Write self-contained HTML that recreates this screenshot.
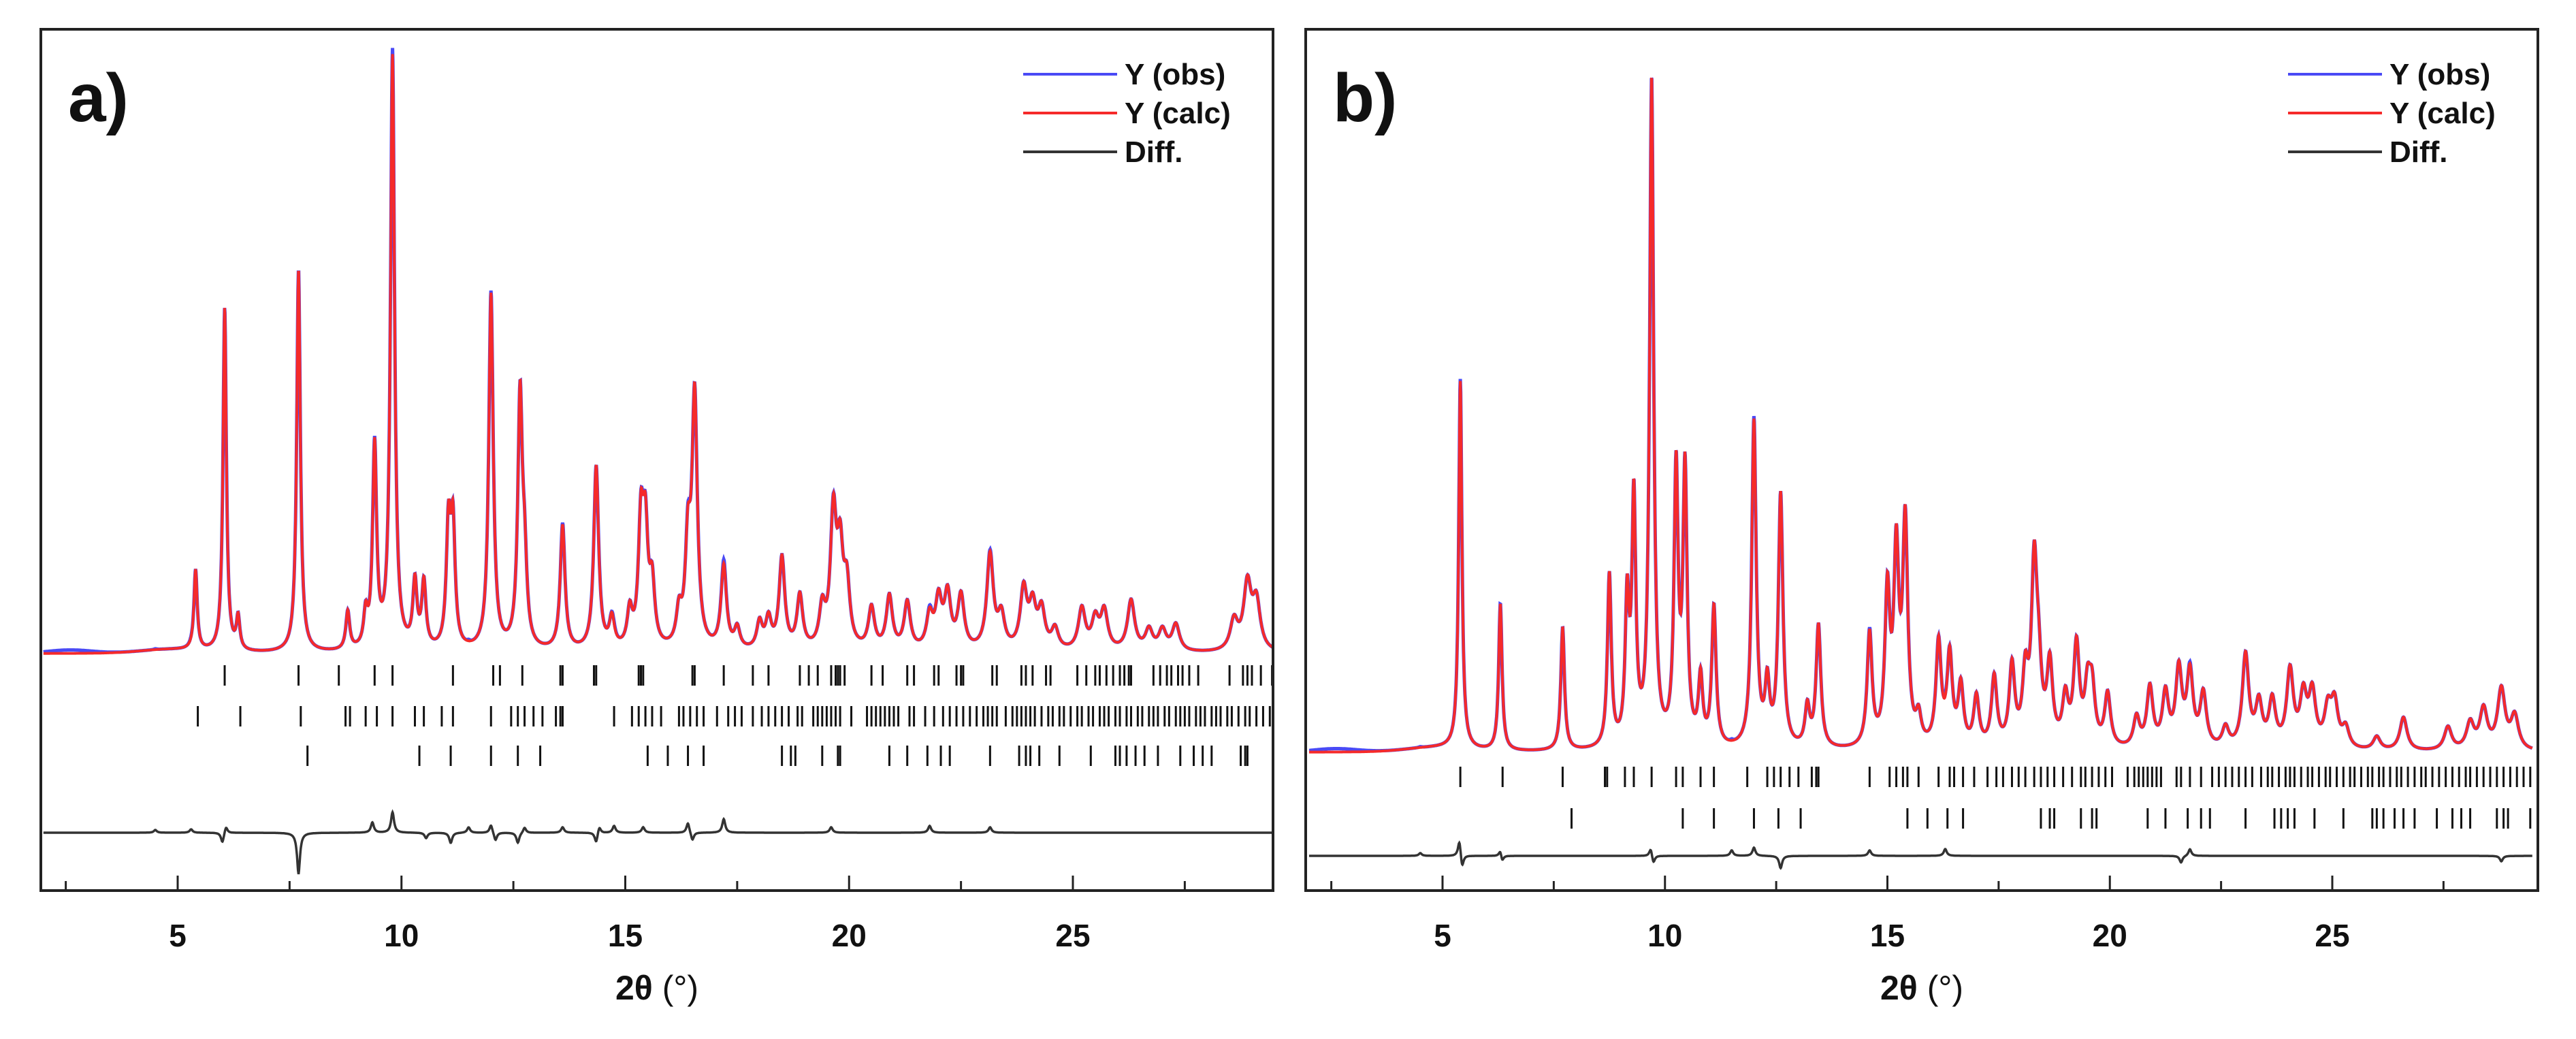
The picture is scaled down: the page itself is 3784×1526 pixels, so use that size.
<!DOCTYPE html>
<html><head><meta charset="utf-8">
<style>
html,body{margin:0;padding:0;background:#fff;}
svg{display:block;font-family:"Liberation Sans",Arial,sans-serif;}
</style></head>
<body>
<svg id="chart" width="3784" height="1526" viewBox="0 0 3784 1526" xmlns="http://www.w3.org/2000/svg">
<rect width="3784" height="1526" fill="#fff"/>
</svg>
<script>
// ---------- Panel a data ----------
const peaksPosA = [5.4,6.05,6.35,7.7,8.8,9.2,9.4,9.8,10.3,10.5,11.05,11.15,12.0,12.65,12.75,13.6,14.35,14.7,15.1,15.35,15.45,15.6,16.2,16.4,16.55,17.2,17.5,18.0,18.2,18.5,18.9,19.4,19.65,19.8,19.95,20.5,20.9,21.3,21.8,22.0,22.2,22.5,23.15,23.4,23.9,24.1,24.3,24.6,25.2,25.5,25.7,26.3,26.7,27.0,27.3,28.6,28.9,29.1];
const peaksIntA = [0.135,0.58,0.055,0.645,0.065,0.055,0.34,1.0,0.11,0.11,0.2,0.2,0.6,0.42,0.12,0.21,0.31,0.05,0.06,0.2,0.18,0.1,0.055,0.16,0.42,0.14,0.035,0.045,0.05,0.155,0.09,0.065,0.22,0.15,0.1,0.07,0.09,0.08,0.055,0.08,0.09,0.09,0.16,0.055,0.1,0.07,0.065,0.035,0.07,0.05,0.065,0.085,0.035,0.035,0.045,0.05,0.11,0.08];
const ticksA1 = [6.05,7.7,8.6,9.4,9.8,11.15,12.05,12.2,12.7,13.55,13.6,14.3,14.35,15.3,15.35,15.4,16.5,16.55,17.2,17.85,18.2,18.9,19.1,19.3,19.6,19.7,19.75,19.8,19.9,20.5,20.75,21.3,21.45,21.9,22.0,22.4,22.5,22.55,23.2,23.3,23.85,23.95,24.1,24.4,24.5,25.1,25.3,25.5,25.6,25.75,25.9,26.05,26.15,26.25,26.3,26.8,26.95,27.1,27.2,27.35,27.45,27.6,27.8,28.5,28.8,28.9,29.0,29.2,29.45];
const ticksA2 = [5.45,6.4,7.75,8.75,8.85,9.2,9.45,9.8,10.3,10.5,10.9,11.15,12.0,12.45,12.6,12.75,12.95,13.15,13.45,13.55,13.6,14.75,15.15,15.3,15.45,15.6,15.8,16.2,16.3,16.45,16.6,16.75,17.05,17.3,17.45,17.6,17.85,18.05,18.2,18.35,18.5,18.65,18.85,18.95,19.2,19.3,19.4,19.5,19.6,19.7,19.8,20.05,20.4,20.5,20.6,20.7,20.8,20.9,21.0,21.1,21.35,21.45,21.7,21.9,22.1,22.25,22.4,22.55,22.7,22.85,23.0,23.1,23.2,23.3,23.5,23.65,23.75,23.85,23.95,24.05,24.15,24.3,24.45,24.55,24.7,24.8,24.95,25.1,25.2,25.35,25.45,25.6,25.7,25.8,25.95,26.05,26.2,26.3,26.45,26.55,26.7,26.8,26.9,27.05,27.15,27.3,27.4,27.5,27.6,27.75,27.85,27.95,28.1,28.2,28.3,28.45,28.55,28.7,28.85,28.95,29.1,29.25,29.4];
const ticksA3 = [7.9,10.4,11.1,12.0,12.6,13.1,15.5,15.95,16.4,16.75,18.5,18.7,18.8,19.4,19.75,19.8,20.9,21.3,21.75,22.05,22.25,23.15,23.8,23.95,24.05,24.25,24.7,25.4,25.95,26.05,26.2,26.4,26.6,26.9,27.4,27.7,27.9,28.1,28.75,28.85,28.9];
const diffPosA = [4.5,5.3,6.0,6.08,7.7,9.35,9.8,10.55,11.1,11.5,12.0,12.1,12.6,12.75,13.6,14.35,14.42,14.75,15.4,16.4,16.5,17.2,19.6,21.8,23.15];
const diffAmpA = [4,5,-15,10,-60,15,30,-8,-15,8,12,-12,-15,8,8,-15,10,10,8,15,-12,20,8,10,8];

// ---------- Panel b data ----------
const peaksPosB = [5.4,6.3,7.7,8.75,9.15,9.3,9.7,10.25,10.45,10.8,11.1,12.0,12.3,12.6,13.2,13.45,14.6,15.0,15.2,15.4,15.7,16.15,16.4,16.65,17.0,17.4,17.8,18.1,18.3,18.4,18.65,19.0,19.25,19.5,19.6,19.95,20.6,20.9,21.25,21.55,21.8,22.1,22.6,23.05,23.35,23.65,24.05,24.35,24.55,24.9,25.05,25.3,26.0,26.6,27.6,28.1,28.4,28.8,29.1];
const peaksIntB = [0.553,0.22,0.185,0.26,0.21,0.365,1.0,0.41,0.41,0.1,0.21,0.49,0.09,0.38,0.06,0.185,0.17,0.225,0.28,0.33,0.04,0.155,0.135,0.09,0.075,0.105,0.12,0.1,0.26,0.09,0.12,0.07,0.15,0.08,0.08,0.08,0.045,0.09,0.08,0.115,0.11,0.08,0.03,0.14,0.065,0.07,0.115,0.075,0.08,0.055,0.065,0.03,0.02,0.05,0.035,0.04,0.06,0.09,0.05];
const ticksB1 = [5.4,6.35,7.7,8.65,8.7,9.1,9.3,9.7,10.25,10.4,10.8,11.1,11.85,12.3,12.45,12.6,12.8,13.0,13.3,13.4,13.45,14.6,15.05,15.2,15.35,15.45,15.7,16.15,16.4,16.5,16.7,16.95,17.25,17.45,17.6,17.8,17.95,18.1,18.3,18.45,18.6,18.75,18.95,19.15,19.35,19.45,19.6,19.75,19.9,20.05,20.4,20.55,20.65,20.75,20.85,20.95,21.05,21.15,21.5,21.6,21.8,22.05,22.3,22.45,22.6,22.75,22.9,23.05,23.2,23.4,23.55,23.65,23.8,23.95,24.05,24.15,24.3,24.45,24.55,24.7,24.85,24.95,25.1,25.25,25.4,25.5,25.65,25.8,25.9,26.05,26.15,26.3,26.45,26.55,26.7,26.85,27.0,27.1,27.25,27.4,27.55,27.7,27.85,28.0,28.1,28.25,28.4,28.55,28.7,28.85,29.0,29.15,29.3,29.45];
const ticksB2 = [7.9,10.4,11.1,12.0,12.55,13.05,15.45,15.9,16.35,16.7,18.45,18.65,18.75,19.35,19.6,19.7,20.85,21.25,21.75,22.05,22.25,23.05,23.7,23.85,24.0,24.15,24.6,25.25,25.9,26.0,26.15,26.4,26.6,26.85,27.35,27.7,27.9,28.1,28.7,28.85,28.95,29.45];
const diffPosB = [4.5,5.38,5.44,6.3,6.34,9.68,9.74,11.5,12.0,12.6,14.6,16.3,21.6,21.8,28.8];
const diffAmpB = [4,25,-20,10,-10,12,-12,8,12,-18,8,10,-10,10,-8];

const xTickLabels = ["5","10","15","20","25"];
const xTickValues = [5,10,15,20,25];

const NS = "http://www.w3.org/2000/svg";
const svg = document.getElementById('chart');
function mk(tag, attrs, parent){
  const e = document.createElementNS(NS, tag);
  for (const k in attrs) e.setAttribute(k, attrs[k]);
  (parent||svg).appendChild(e);
  return e;
}

function drawPanel(cfg){
  const g = mk('g', {});
  
  
  const xs = v => cfg.x5 + (v - 5) * cfg.ppd;
  const ys = f => cfg.base - f * cfg.scale;
  const calc = t => {
    let s = cfg.bgBump * Math.exp(-Math.pow((t - cfg.bgPos) / 0.9, 2));
    for (let i = 0; i < cfg.pos.length; i++) {
      const w = 0.03 + 0.0025 * cfg.pos[i];
      const d = (t - cfg.pos[i]) / w;
      s += cfg.int[i] / (1 + d * d);
    }
    return s;
  };
  const diff = t => {
    let s = 0;
    for (let i = 0; i < cfg.dpos.length; i++) {
      const d = (t - cfg.dpos[i]) / 0.04;
      s += cfg.damp[i] / (1 + d * d);
    }
    return s;
  };
  let pObs = "", pCalc = "", pDiff = "";
  for (let t = 2; t <= 29.5001; t += 0.008) {
    const c = calc(t), df = diff(t);
    const X = xs(t).toFixed(1);
    pCalc += (pCalc ? "L" : "M") + X + "," + ys(c).toFixed(1);
    pObs += (pObs ? "L" : "M") + X + "," + (ys(c) - Math.max(0, df) * 0.3 - 5 * Math.exp(-Math.pow((t - 2.6) / 0.7, 2))).toFixed(1);
    pDiff += (pDiff ? "L" : "M") + X + "," + (cfg.diffY - df).toFixed(1);
  }
  const clip = mk('clipPath', {id: 'clip-' + cfg.name}, g);
  mk('rect', {x: cfg.left, y: cfg.top, width: cfg.right - cfg.left, height: cfg.bottom - cfg.top}, clip);
  const obs = mk('path', {d: pObs, fill: 'none', stroke: '#4a4af5', 'stroke-width': 5, 'clip-path': 'url(#clip-' + cfg.name + ')'}, g);
  
  
  const cal = mk('path', {d: pCalc, fill: 'none', stroke: '#f52a2a', 'stroke-width': 4, 'clip-path': 'url(#clip-' + cfg.name + ')'}, g);
  
  
  const dl = mk('path', {d: pDiff, fill: 'none', stroke: '#333', 'stroke-width': 3.5, 'clip-path': 'url(#clip-' + cfg.name + ')'}, g);
  
  
  cfg.tickRows.forEach((row, ri) => {
    const rg = mk('g', {stroke: '#111', 'stroke-width': 3}, g);
    
    
    row.forEach(v => {
      mk('line', {x1: xs(v), x2: xs(v), y1: cfg.tickY[ri] - 15, y2: cfg.tickY[ri] + 15}, rg);
    });
  });
  const fr = mk('rect', {x: cfg.left, y: cfg.top, width: cfg.right - cfg.left, height: cfg.bottom - cfg.top, fill: 'none', stroke: '#222', 'stroke-width': 4}, g);
  
  
  const ax = mk('g', {}, g);
  
  
  for (let v = 2.5; v <= 29.5; v += 2.5) {
    const major = Math.abs(v % 5) < 1e-6;
    mk('line', {x1: xs(v), x2: xs(v), y1: cfg.bottom, y2: cfg.bottom - (major ? 22 : 14), stroke: '#222', 'stroke-width': 3}, ax);
  }
  xTickValues.forEach((v, i) => {
    const t = mk('text', {x: xs(v), y: cfg.bottom + 82, 'font-size': 46, 'font-weight': 'bold', 'text-anchor': 'middle', fill: '#111'}, ax);
    t.textContent = xTickLabels[i];
    
    
  });
  const tt = mk('text', {x: (cfg.left + cfg.right) / 2, y: 1468, 'font-size': 50, 'text-anchor': 'middle', fill: '#111'}, g);
  tt.innerHTML = '<tspan font-weight="bold">2θ</tspan> (°)';
  
  
  const pl = mk('text', {x: cfg.left + 40, y: 178, 'font-size': 100, 'font-weight': 'bold', fill: '#111'}, g);
  pl.textContent = cfg.label;
  
  
  const lg = mk('g', {}, g);
  
  
  const items = [['Y (obs)', '#4a4af5'], ['Y (calc)', '#f52a2a'], ['Diff.', '#333']];
  items.forEach((it, i) => {
    const y = 109 + i * 57;
    const e = mk('g', {}, lg);
    
    
    mk('line', {x1: cfg.right - 367, x2: cfg.right - 229, y1: y, y2: y, stroke: it[1], 'stroke-width': 4}, e);
    const t = mk('text', {x: cfg.right - 218, y: y + 15, 'font-size': 44, 'font-weight': 'bold', fill: '#111'}, e);
    t.textContent = it[0];
  });
}

drawPanel({name: 'panel-a', label: 'a)', left: 60, right: 1870, top: 43, bottom: 1308,
  x5: 261, ppd: 65.75, base: 960, scale: 871, bgBump: 0.006, bgPos: 4.8,
  pos: peaksPosA, int: peaksIntA, dpos: diffPosA, damp: diffAmpA,
  tickRows: [ticksA1, ticksA2, ticksA3], tickY: [992, 1052, 1110], diffY: 1223});
drawPanel({name: 'panel-b', label: 'b)', left: 1918, right: 3728, top: 43, bottom: 1308,
  x5: 2119, ppd: 65.35, base: 1105, scale: 977, bgBump: 0.006, bgPos: 4.8,
  pos: peaksPosB, int: peaksIntB, dpos: diffPosB, damp: diffAmpB,
  tickRows: [ticksB1, ticksB2], tickY: [1141, 1202], diffY: 1257});
</script>
</body></html>
